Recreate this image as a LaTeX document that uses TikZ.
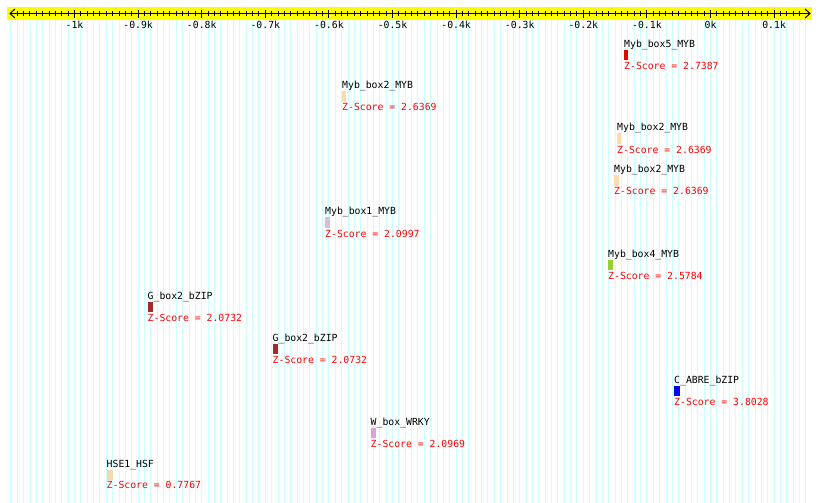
\documentclass[tikz,border=0pt]{standalone}
\usepackage{fontspec}
\newfontfamily\pixmono{DejaVu Sans Mono}
\definecolor{gridc}{RGB}{204,255,255}
\definecolor{bandc}{RGB}{255,255,0}
\definecolor{zred}{RGB}{255,0,0}
\definecolor{cRed}{RGB}{230,0,0}
\definecolor{cPeach}{RGB}{252,220,170}
\definecolor{cThistle}{RGB}{216,191,216}
\definecolor{cYG}{RGB}{154,205,50}
\definecolor{cBrown}{RGB}{165,42,42}
\definecolor{cBlue}{RGB}{0,0,255}
\definecolor{cPlum}{RGB}{221,160,221}
\definecolor{cWheat}{RGB}{245,218,176}
\newcommand\mymotif[8]{% id, x, name y, Z y, bar width, colour, name, score
  \node[nametxt] (#1n) at (#2,#3+3.6) {#7};
  \node[motifbar, fill=#6, minimum width=#5pt] (#1b) at (#2,#3+6) {};
  \node[ztxt] (#1z) at (#2,#4+3.6) {Z-Score = #8};
}
\begin{document}
\begin{tikzpicture}[x=1pt,y=-1pt,
  basefont/.style={font=\pixmono\fontsize{9.8}{10}\selectfont, inner sep=0pt},
  nametxt/.style={basefont, anchor=base west, text=black},
  ztxt/.style={basefont, anchor=base west, text=zred},
  axtxt/.style={basefont, anchor=base, text=black},
  motifbar/.style={draw=none, inner sep=0pt, minimum height=10.5pt, anchor=north west},
  gridline/.style={draw=gridc, line width=0.9pt},
  axisline/.style={draw=black, line width=1pt},
]
\useasboundingbox (0,0) rectangle (820,503);
\fill[white] (0,0) rectangle (820,503);
% grid
\foreach \i in {-110,...,15} \draw[gridline] ({710.5+6.36*\i},20) -- ({710.5+6.36*\i},503);
% band
\fill[bandc] (7,7) rectangle (812,20);
% axis
\draw[axisline] (10,13.5) -- (810,13.5);
\draw[axisline] (15,9) -- (10,13.5) -- (15,18);
\draw[axisline] (805,9) -- (810,13.5) -- (805,18);
\foreach \i in {-109,...,14} \draw[axisline] ({710.5+6.36*\i},11.5) -- ({710.5+6.36*\i},16.5);
\foreach \i in {-10,...,1} \draw[axisline] ({710.5+63.6*\i},10) -- ({710.5+63.6*\i},18);
\node[axtxt] (l1) at ({710.5-636},28.1) {-1k};
\node[axtxt] (l2) at ({710.5-572.4},28.1) {-0.9k};
\node[axtxt] (l3) at ({710.5-508.8},28.1) {-0.8k};
\node[axtxt] (l4) at ({710.5-445.2},28.1) {-0.7k};
\node[axtxt] (l5) at ({710.5-381.6},28.1) {-0.6k};
\node[axtxt] (l6) at ({710.5-318},28.1) {-0.5k};
\node[axtxt] (l7) at ({710.5-254.4},28.1) {-0.4k};
\node[axtxt] (l8) at ({710.5-190.8},28.1) {-0.3k};
\node[axtxt] (l9) at ({710.5-127.2},28.1) {-0.2k};
\node[axtxt] (l10) at ({710.5-63.6},28.1) {-0.1k};
\node[axtxt] (l11) at (710.5,28.1) {0k};
\node[axtxt] (l12) at ({710.5+63.6},28.1) {0.1k};
% motifs
\mymotif{m1}{624}{43.5}{66}{4}{cRed}{Myb\_box5\_MYB}{2.7387}
\mymotif{m2}{342}{85}{107}{4}{cPeach}{Myb\_box2\_MYB}{2.6369}
\mymotif{m3}{617}{127}{150}{4}{cPeach}{Myb\_box2\_MYB}{2.6369}
\mymotif{m4}{614}{169}{191}{4.5}{cPeach}{Myb\_box2\_MYB}{2.6369}
\mymotif{m5}{325}{211}{234}{4.7}{cThistle}{Myb\_box1\_MYB}{2.0997}
\mymotif{m6}{608}{253.5}{276}{4.7}{cYG}{Myb\_box4\_MYB}{2.5784}
\mymotif{m7}{147.5}{295.5}{318}{5.3}{cBrown}{G\_box2\_bZIP}{2.0732}
\mymotif{m8}{272.5}{337.5}{360}{5.3}{cBrown}{G\_box2\_bZIP}{2.0732}
\mymotif{m9}{674}{379.5}{402}{5.3}{cBlue}{C\_ABRE\_bZIP}{3.8028}
\mymotif{m10}{370.5}{421.5}{443.5}{5.3}{cPlum}{W\_box\_WRKY}{2.0969}
\mymotif{m11}{106.5}{463.5}{485}{6.5}{cWheat}{HSE1\_HSF}{0.7767}
\end{tikzpicture}
\end{document}
